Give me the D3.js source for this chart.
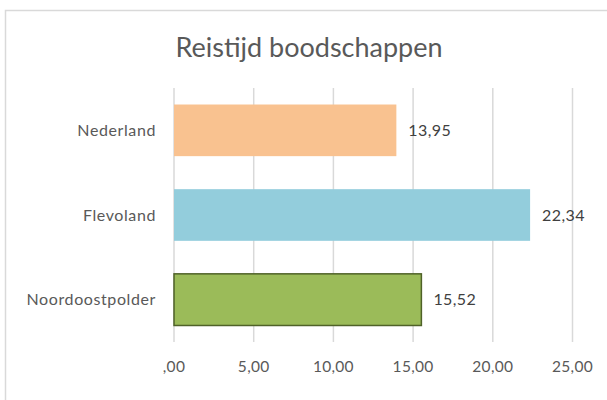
<!DOCTYPE html>
<html><head><meta charset="utf-8">
<script src="https://cdn.jsdelivr.net/npm/d3@7"></script>
<style>body{margin:0;background:#fff}svg{display:block}text{font-family:Lato,"Open Sans",sans-serif}</style>
</head><body>
<script>
const categories = ["Nederland", "Flevoland", "Noordoostpolder"];
const values = [13.95, 22.34, 15.52];
const colors = ["#F9C290", "#93CDDC", "#9BBB59"];
const strokes = ["none", "none", "#4F6228"];
const tickValues = [0, 5, 10, 15, 20, 25];
const title = "Reistijd boodschappen";

(function () {
const W = 607, H = 400;
const svg = d3.select("body").append("svg").attr("width", W).attr("height", H);
svg.append("rect").attr("x", 5.5).attr("y", 10.5).attr("width", 640).attr("height", 420)
  .attr("fill", "#fff").attr("stroke", "#d9d9d9").attr("stroke-width", 1.5);

const pL = 174, pR = 572.5, pT = 88, pB = 342;
const fmtTick = v => v === 0 ? ",00" : d3.format(".2f")(v).replace(".", ",");

const x = d3.scaleLinear().domain([0, 25]).range([pL, pR]);
const y = d3.scaleBand().domain(categories).range([pT, pB]).paddingInner(0.39).paddingOuter(0.195);

svg.append("g").selectAll("line").data(tickValues).join("line")
  .attr("x1", d => x(d)).attr("x2", d => x(d)).attr("y1", pT).attr("y2", pB)
  .attr("stroke", "#d9d9d9").attr("stroke-width", 1.5);

svg.append("g").selectAll("text").data(tickValues).join("text")
  .attr("x", d => x(d)).attr("y", 372).attr("text-anchor", "middle")
  .attr("font-size", 15.5).attr("letter-spacing", 0.3).attr("fill", "#595959").text(fmtTick);

svg.append("g").selectAll("rect").data(categories).join("rect")
  .attr("x", x(0)).attr("y", d => y(d))
  .attr("width", (d, i) => x(values[i]) - x(0)).attr("height", y.bandwidth())
  .attr("fill", (d, i) => colors[i])
  .attr("stroke", (d, i) => strokes[i]).attr("stroke-width", 1.5);

svg.append("g").selectAll("text").data(categories).join("text")
  .attr("x", (d, i) => x(values[i]) + 12).attr("y", d => y(d) + y.bandwidth() / 2 + 5.5)
  .attr("font-size", 16).attr("letter-spacing", 0.4).attr("fill", "#404040")
  .text((d, i) => d3.format(".2f")(values[i]).replace(".", ","));

svg.append("g").selectAll("text").data(categories).join("text")
  .attr("x", 156).attr("y", d => y(d) + y.bandwidth() / 2 + 5.5).attr("text-anchor", "end")
  .attr("font-size", 16).attr("letter-spacing", 0.6).attr("fill", "#595959").text(d => d);

svg.append("text").attr("x", 309).attr("y", 57).attr("text-anchor", "middle")
  .attr("font-size", 27).attr("fill", "#595959").text(title);
})();
</script>
</body></html>
